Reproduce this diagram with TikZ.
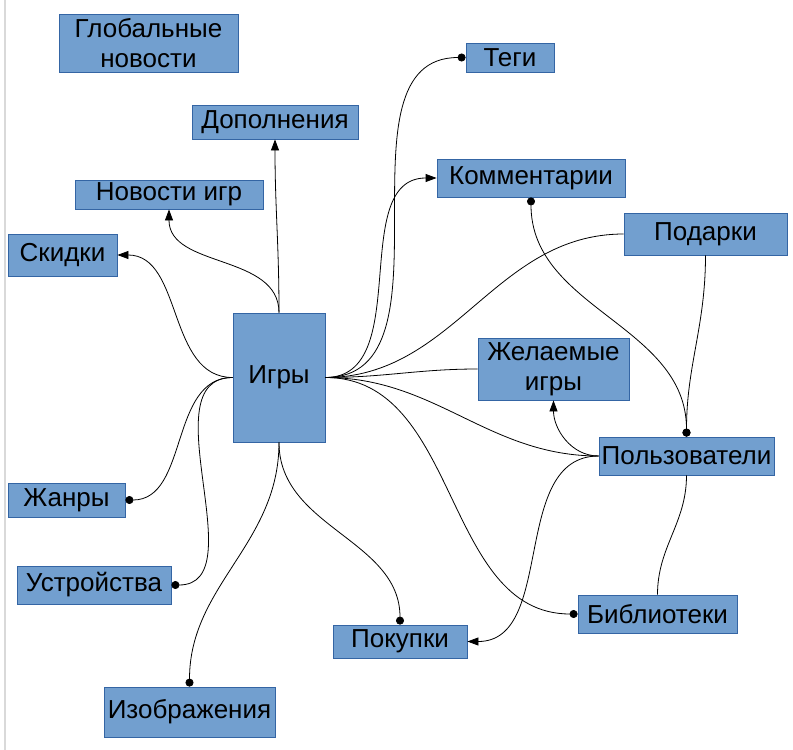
\documentclass[tikz,border=0pt]{standalone}
\usepackage{fontspec}
\setmainfont{Liberation Sans}
\usetikzlibrary{arrows.meta}
\definecolor{boxfill}{HTML}{729FCF}
\definecolor{boxline}{HTML}{3465A4}
\tikzset{
  box/.style={draw=boxline, fill=boxfill, line width=0.8pt, inner sep=0pt,
    align=center, font=\fontsize{26}{30}\selectfont},
  link/.style={line width=0.8pt},
  arr/.style={link, -{Triangle[length=11pt,width=8pt]}},
  dot/.style={link, -{Circle[length=8pt]}},
  dots/.style={link, {Circle[length=8pt]}-{Circle[length=8pt]}}
}
\begin{document}
\begin{tikzpicture}[x=1pt,y=-1pt]
\useasboundingbox (0,0) rectangle (793,750);
\draw[line width=2pt, black!15] (5,0) -- (5,750);

\node[box, minimum width=179pt, minimum height=58pt] (glob) at (148.5,43) {Глобальные\\новости};
\node[box, minimum width=166pt, minimum height=34pt] (addons) at (275,122) {Дополнения};
\node[box, minimum width=188pt, minimum height=29pt] (gnews) at (169,194.5) {Новости игр};
\node[box, minimum width=109pt, minimum height=42pt] (sales) at (62.5,255) {Скидки};
\node[box, minimum width=92pt, minimum height=129pt] (games) at (279,377.5) {Игры};
\node[box, minimum width=117pt, minimum height=34pt] (genres) at (66.5,500) {Жанры};
\node[box, minimum width=154pt, minimum height=38pt] (devices) at (94,585) {Устройства};
\node[box, minimum width=171pt, minimum height=50pt] (images) at (189.5,712) {Изображения};
\node[box, minimum width=134pt, minimum height=33pt] (purch) at (400,641.5) {Покупки};
\node[box, minimum width=88pt, minimum height=29pt] (tags) at (510,57.5) {Теги};
\node[box, minimum width=188pt, minimum height=38pt] (comm) at (531,178) {Комментарии};
\node[box, minimum width=163pt, minimum height=42pt] (gifts) at (705.5,234) {Подарки};
\node[box, minimum width=151pt, minimum height=62pt] (wish) at (553.5,369) {Желаемые\\игры};
\node[box, minimum width=175pt, minimum height=38pt] (users) at (686.5,456) {Пользователи};
\node[box, minimum width=159pt, minimum height=38pt] (libs) at (657.5,614) {Библиотеки};

% links of games
\draw[arr] (games.north) to[out=90,in=-90] (addons.south);
\draw[arr] (games.north) to[out=90,in=-90] (gnews.south);
\draw[arr] (games.west) to[out=180,in=0] (sales.east);
\foreach \t in {genres,devices}
  \draw[dot] (games.west) to[out=180,in=0] (\t.east);
\foreach \t in {images,purch}
  \draw[dot] (games.south) to[out=-90,in=90] (\t.north);
\draw[dot] (games.east) to[out=0,in=180] (tags.west);
\draw[arr] (games.east) to[out=0,in=180] (comm.west);
\foreach \t in {gifts,wish,users}
  \draw[link] (games.east) to[out=0,in=180] (\t.west);
\draw[dot] (games.east) to[out=0,in=180] (libs.west);

% links of users
\draw[dots] (comm.south) to[out=-90,in=90] (users.north);
\draw[dot] (gifts.south) to[out=-90,in=90] (users.north);
\draw[arr] (users.west) to[out=180,in=-90] (wish.south);
\draw[arr] (users.west) to[out=180,in=0] (purch.east);
\draw[link] (users.south) to[out=-90,in=90] (libs.north);

\end{tikzpicture}
\end{document}
